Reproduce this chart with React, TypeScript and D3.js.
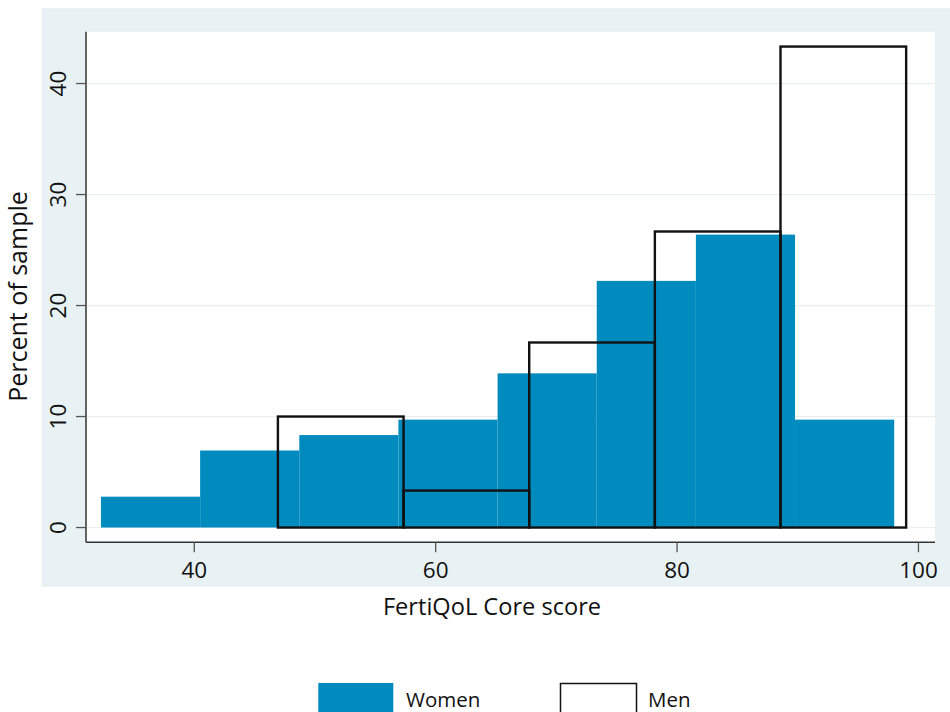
import React from "react";
import * as d3 from "d3";

// ---- Data ----
const womenBinStart = 32.27;
const womenBinWidth = 8.215;
const womenPercent = [2.78, 6.94, 8.33, 9.72, 13.89, 22.22, 26.39, 9.72];

const menBinStart = 46.93;
const menBinWidth = 10.41;
const menPercent = [10.0, 3.33, 16.67, 26.67, 43.33];

const xTicks = [40, 60, 80, 100];
const yTicks = [0, 10, 20, 30, 40];

const xLabel = "FertiQoL Core score";
const yLabel = "Percent of sample";
const legendLabels = ["Women", "Men"];

// ---- Style ----
const W = 950;
const H = 712;
const BLUE = "#008bbf";
const BG = "#e8f1f3";
const FONT = "'Open Sans', 'DejaVu Sans', sans-serif";

export default function App() {
  const plot = { left: 86, right: 935, top: 31.7, bottom: 542.3 };
  const x = d3.scaleLinear().domain([31.03, 101.37]).range([plot.left, plot.right]);
  const y = d3.scaleLinear().domain([-1.33, 44.67]).range([plot.bottom, plot.top]);

  const women = womenPercent.map((v, i) => ({
    x0: womenBinStart + i * womenBinWidth,
    x1: womenBinStart + (i + 1) * womenBinWidth,
    v,
  }));
  const men = menPercent.map((v, i) => ({
    x0: menBinStart + i * menBinWidth,
    x1: menBinStart + (i + 1) * menBinWidth,
    v,
  }));

  return (
    <svg
      width={W}
      height={H}
      style={{ position: "absolute", left: 0, top: 0, display: "block", background: "#fff" }}
      fontFamily={FONT}
    >
      {/* outer graph region */}
      <rect x={41.7} y={8.3} width={W - 41.7} height={586.7 - 8.3} fill={BG} />
      {/* plot region */}
      <rect x={plot.left} y={plot.top} width={plot.right - plot.left} height={plot.bottom - plot.top} fill="#fff" />

      {/* gridlines */}
      {yTicks.map((t) => (
        <line key={"g" + t} x1={plot.left} x2={plot.right} y1={y(t)} y2={y(t)} stroke="#eaeef0" strokeWidth={1.3} />
      ))}

      {/* women bars */}
      {women.map((d, i) => (
        <rect
          key={"w" + i}
          x={x(d.x0)}
          y={y(d.v)}
          width={x(d.x1) - x(d.x0)}
          height={y(0) - y(d.v)}
          fill={BLUE}
        />
      ))}

      {/* men bars */}
      {men.map((d, i) => (
        <rect
          key={"m" + i}
          x={x(d.x0)}
          y={y(d.v)}
          width={x(d.x1) - x(d.x0)}
          height={y(0) - y(d.v)}
          fill="none"
          stroke="#111"
          strokeWidth={2.4}
        />
      ))}

      {/* axes */}
      <line x1={plot.left} x2={plot.left} y1={plot.top} y2={plot.bottom} stroke="#333" strokeWidth={1.5} />
      <line x1={plot.left} x2={plot.right} y1={plot.bottom} y2={plot.bottom} stroke="#333" strokeWidth={1.5} />

      {yTicks.map((t) => (
        <g key={"yt" + t}>
          <line x1={plot.left - 10} x2={plot.left} y1={y(t)} y2={y(t)} stroke="#555" strokeWidth={1.3} />
          <text
            transform={`translate(66,${y(t)}) rotate(-90)`}
            textAnchor="middle"
            fontSize={22.5}
            fill="#111"
          >
            {t}
          </text>
        </g>
      ))}

      {xTicks.map((t) => (
        <g key={"xt" + t}>
          <line x1={x(t)} x2={x(t)} y1={plot.bottom} y2={plot.bottom + 10} stroke="#555" strokeWidth={1.3} />
          <text x={x(t)} y={578} textAnchor="middle" fontSize={22.5} fill="#111">
            {t}
          </text>
        </g>
      ))}

      {/* axis titles */}
      <text x={492} y={615} textAnchor="middle" fontSize={23.6} fill="#111">
        {xLabel}
      </text>
      <text transform="translate(27,296.5) rotate(-90)" textAnchor="middle" fontSize={25} fill="#111">
        {yLabel}
      </text>

      {/* legend */}
      <rect x={318.3} y={683} width={75} height={40} fill={BLUE} />
      <text x={406} y={707} fontSize={20.5} fill="#111">
        {legendLabels[0]}
      </text>
      <rect x={560.5} y={683.5} width={76} height={40} fill="#fff" stroke="#111" strokeWidth={1.5} />
      <text x={648} y={707} fontSize={20.5} fill="#111">
        {legendLabels[1]}
      </text>
    </svg>
  );
}
